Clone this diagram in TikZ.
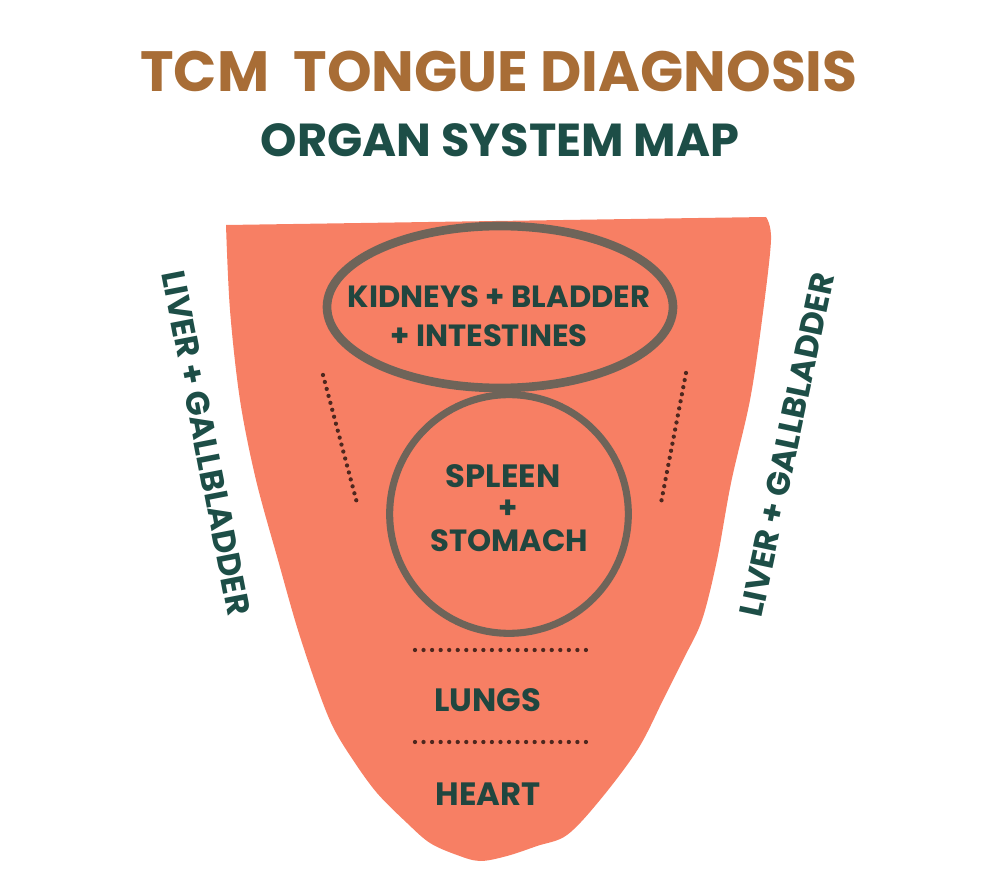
\documentclass[tikz,border=0pt]{standalone}
\usepackage{fontspec}
\setmainfont{Poppins}
\usetikzlibrary{shapes.geometric}
\definecolor{tongue}{HTML}{F77F64}
\definecolor{rim}{HTML}{6E6459}
\definecolor{titlebrown}{HTML}{A86D36}
\definecolor{deepteal}{HTML}{1D4E47}
\definecolor{labteal}{HTML}{21463F}
\definecolor{dotbrown}{HTML}{4E271E}
\tikzset{
  lab/.style={inner sep=0pt, text=labteal, font=\fontsize{23}{26}\selectfont\bfseries},
  biglab/.style={lab, font=\fontsize{24.2}{27}\selectfont\bfseries},
  side/.style={inner sep=0pt, text=deepteal, font=\fontsize{24.5}{27}\selectfont\bfseries},
  dotline/.style={draw=dotbrown, line width=3.2pt, line cap=round, dash pattern=on 0pt off #1},
}
\begin{document}
\begin{tikzpicture}[x=0.75pt,y=-0.75pt]
\useasboundingbox (0,0) rectangle (1000,888);
% tongue
\fill[tongue] (226,225) -- plot[smooth,tension=0.55] coordinates {(226,225)(230,310)(240,400)(256,480)(278,560)(297,627)(317,687)(333,727)(353,760)(377,793)(407,823)(430,843)(457,855)(480,861)(507,856)(537,846)(567,835)(600,800)(638,749)(664,698)(684,658)(702,620)(717,560)(731,483)(750,400)(762,320)(771,240)(766,217)} -- cycle;
% titles
\node[inner sep=0pt, text=titlebrown, font=\fontsize{42.6}{48}\selectfont\bfseries] (title) at (499,71) {TCM\ \ TONGUE DIAGNOSIS};
\node[inner sep=0pt, text=deepteal, font=\fontsize{34.7}{40}\selectfont\bfseries] (subtitle) at (500,140) {ORGAN SYSTEM MAP};
% regions
\node[ellipse, draw=rim, line width=6.5pt, minimum width=259.5pt, minimum height=121.5pt, inner sep=0pt] (kidell) at (500,307) {};
\node[circle, draw=rim, line width=5.3pt, minimum size=179pt, inner sep=0pt] (spcirc) at (509,514) {};
% dotted separators
\coordinate (dl1) at (323,375); \coordinate (dl2) at (357,503);
\coordinate (dr1) at (686,373); \coordinate (dr2) at (661,503);
\coordinate (h1a) at (415,650); \coordinate (h1b) at (586,650);
\coordinate (h2a) at (415,742); \coordinate (h2b) at (586,742);
\draw[dotline=5.4pt] (dl1) -- (dl2);
\draw[dotline=5.4pt] (dr1) -- (dr2);
\draw[dotline=6.41pt] (h1a) -- (h1b);
\draw[dotline=6.41pt] (h2a) -- (h2b);
% labels
\node[lab] (kid) at (499,297) {KIDNEYS + BLADDER};
\node[lab] (intest) at (489,336) {+ INTESTINES};
\node[biglab] (spleen) at (503,476) {SPLEEN};
\node[lab] (plus) at (508,509) {+};
\node[lab] (stomach) at (509,541) {STOMACH};
\node[biglab] (lungs) at (488,700) {LUNGS};
\node[biglab] (heart) at (488,794) {HEART};
\node[side, rotate=-79] (liverl) at (206,443) {LIVER + GALLBLADDER};
\node[side, rotate=78] (liverr) at (787,445) {LIVER + GALLBLADDER};
\end{tikzpicture}
\end{document}
